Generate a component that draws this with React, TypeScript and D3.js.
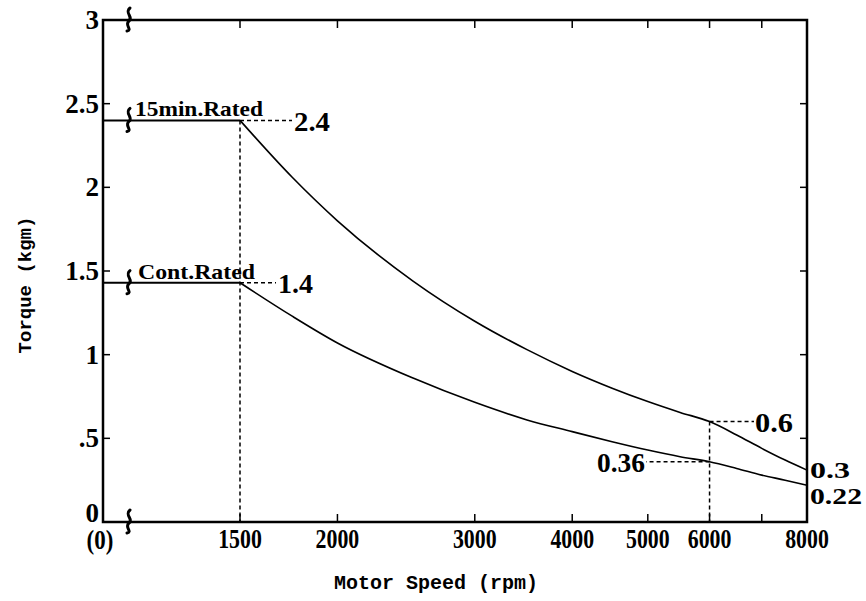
import React from "react";
import * as d3 from "d3";

// motor torque / speed characteristic
const speeds = [1500, 1750, 2000, 2500, 3000, 3500, 4000, 4500, 5000, 5500, 6000, 6500, 7000, 7500, 8000];
const torque15min = [2.4, 2.06, 1.8, 1.44, 1.2, 1.03, 0.9, 0.8, 0.72, 0.655, 0.6, 0.52, 0.44, 0.37, 0.31];
const torqueCont = [1.43, 1.23, 1.07, 0.86, 0.715, 0.61, 0.54, 0.48, 0.43, 0.39, 0.36, 0.32, 0.28, 0.25, 0.22];

const speedTicks = [1500, 2000, 3000, 4000, 5000, 6000, 8000];
const minorSpeedTicks = [7000];
const torqueTicks = [0, 0.5, 1, 1.5, 2, 2.5, 3];
const torqueTickLabels = ["0", ".5", "1", "1.5", "2", "2.5", "3"];
const breakValues = [3, 2.4, 1.43, 0];

const baseSpeed = 1500;
const cornerSpeed = 6000;

const W = 866,
  H = 601;
const left = 103,
  right = 807,
  top = 20,
  bottom = 522;

const serif = "'Liberation Serif', 'DejaVu Serif', serif";
const mono = "'Liberation Mono', 'DejaVu Sans Mono', monospace";

function Txt({ x, y, children, anchor = "start", size = 28, sx = 1, family = serif, weight = "bold", len }: any) {
  return (
    <text
      transform={`translate(${x},${y}) scale(${sx},1)`}
      textAnchor={anchor}
      fontSize={size}
      fontFamily={family}
      fontWeight={weight}
      fill="#000"
      textLength={len}
      lengthAdjust={len ? "spacingAndGlyphs" : undefined}
    >
      {children}
    </text>
  );
}

export default function App() {
  const x = d3.scaleLog().domain([1500, 8000]).range([240, right]);
  const sx = (v: number) => (v <= 0 ? left : x(v));
  const y = d3.scaleLinear().domain([0, 3]).range([bottom, top]);

  const line = d3
    .line<number>()
    .x((d, i) => x(speeds[i]))
    .y((d) => y(d))
    .curve(d3.curveMonotoneX);

  const flat = (v: number) => `M${sx(0)},${y(v)}L${x(baseSpeed)},${y(v)}`;

  const breakMark = (cy: number) => {
    const bx = 129;
    return `M${bx + 1},${cy - 12} C${bx - 5},${cy - 7} ${bx + 5},${cy - 3} ${bx},${cy + 1} C${bx - 5},${cy + 5} ${bx + 4},${cy + 10} ${bx - 2},${cy + 11}`;
  };

  const t15 = torque15min[0];
  const tc = torqueCont[0];
  const t15c = torque15min[speeds.indexOf(cornerSpeed)];
  const tcc = torqueCont[speeds.indexOf(cornerSpeed)];

  const dash = "4,3";

  return (
    <svg width={W} height={H} style={{ position: "absolute", left: 0, top: 0, background: "#fff" }}>
      <rect width={W} height={H} fill="#fff" />

      {/* frame */}
      <rect x={left} y={top} width={right - left} height={bottom - top} fill="none" stroke="#000" strokeWidth={2.5} />

      {/* ticks inward on all four sides */}
      {[...speedTicks, ...minorSpeedTicks].map((s) => (
        <g key={"xt" + s}>
          <line x1={x(s)} x2={x(s)} y1={bottom} y2={bottom - 8} stroke="#000" strokeWidth={1.5} />
          <line x1={x(s)} x2={x(s)} y1={top} y2={top + 8} stroke="#000" strokeWidth={1.5} />
        </g>
      ))}
      {torqueTicks.slice(1, -1).map((t) => (
        <g key={"yt" + t}>
          <line x1={left} x2={left + 7} y1={y(t)} y2={y(t)} stroke="#000" strokeWidth={1.5} />
          <line x1={right} x2={right - 7} y1={y(t)} y2={y(t)} stroke="#000" strokeWidth={1.5} />
        </g>
      ))}

      {/* axis break marks */}
      {breakValues.map((v) => (
        <path key={"br" + v} d={breakMark(y(v))} fill="none" stroke="#000" strokeWidth={3} strokeLinecap="round" />
      ))}

      {/* guide lines */}
      <g stroke="#000" strokeWidth={1.5} strokeDasharray={dash} fill="none">
        <line x1={x(baseSpeed)} x2={x(baseSpeed)} y1={y(t15)} y2={bottom} />
        <line x1={x(baseSpeed)} x2={292} y1={y(t15)} y2={y(t15)} />
        <line x1={x(baseSpeed)} x2={276} y1={y(tc)} y2={y(tc)} />
        <line x1={x(cornerSpeed)} x2={x(cornerSpeed)} y1={y(t15c)} y2={bottom} />
        <line x1={x(cornerSpeed)} x2={754} y1={y(t15c)} y2={y(t15c)} />
        <line x1={x(cornerSpeed)} x2={646} y1={y(tcc)} y2={y(tcc)} />
      </g>

      {/* curves */}
      <g stroke="#000" strokeWidth={1.6} fill="none">
        <path d={flat(t15)} strokeWidth={2} />
        <path d={flat(tc)} strokeWidth={2} />
        <path d={line(torque15min) || ""} />
        <path d={line(torqueCont) || ""} />
      </g>

      {/* curve labels */}
      <Txt x={135} y={y(t15) - 4} size={22} len={128}>15min.Rated</Txt>
      <Txt x={138} y={y(tc) - 4} size={22} len={117}>Cont.Rated</Txt>

      {/* value labels */}
      <Txt x={294} y={y(t15) + 11} len={36}>2.4</Txt>
      <Txt x={278} y={y(tc) + 10} len={35}>1.4</Txt>
      <Txt x={755} y={y(t15c) + 10} len={38}>0.6</Txt>
      <Txt x={597} y={y(tcc) + 10} len={48}>0.36</Txt>
      <Txt x={810} y={478} size={23} len={40}>0.3</Txt>
      <Txt x={810} y={504} size={23} len={52}>0.22</Txt>

      {/* tick labels */}
      {speedTicks.map((s) => (
        <Txt key={"xl" + s} x={x(s)} y={548} anchor="middle" sx={0.78}>
          {s}
        </Txt>
      ))}
      <Txt x={left - 3} y={549} anchor="middle" sx={0.85} size={27}>(0)</Txt>
      {torqueTicks.map((t, i) => (
        <Txt key={"yl" + t} x={99} y={i === 0 ? y(t) : y(t) + 9} anchor="end" size={27}>
          {torqueTickLabels[i]}
        </Txt>
      ))}

      {/* axis titles */}
      <Txt x={436} y={589} anchor="middle" family={mono} size={20}>
        Motor Speed (rpm)
      </Txt>
      <text
        transform={`translate(31,${(top + bottom) / 2 + 14}) rotate(-90)`}
        textAnchor="middle"
        fontFamily={mono}
        fontSize={19}
        fontWeight="bold"
      >
        Torque (kgm)
      </text>
    </svg>
  );
}
